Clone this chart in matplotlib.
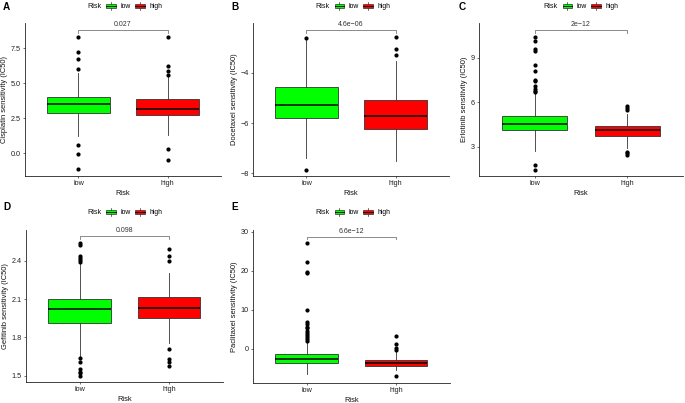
import matplotlib
matplotlib.use("Agg")
import matplotlib.pyplot as plt
from matplotlib.patches import Rectangle, Patch
from matplotlib.lines import Line2D
from matplotlib.legend_handler import HandlerBase

plt.rcParams['font.family'] = ['Liberation Sans', 'DejaVu Sans']
plt.rcParams['axes.unicode_minus'] = True

# ---------------- data ----------------
groups = ["low", "high"]
group_colors = ["#00FF00", "#FF0000"]

# box stats: [whisker_low, q1, median, q3, whisker_high]
cisplatin_low_box = [1.24, 2.90, 3.50, 4.04, 5.76]
cisplatin_low_out = [8.33, 7.26, 6.74, 6.02, 0.59, -0.05, -1.14]
cisplatin_high_box = [1.31, 2.71, 3.14, 3.86, 5.47]
cisplatin_high_out = [8.33, 6.26, 5.90, 5.62, 0.31, -0.45]
cisplatin_p = "0.027"
cisplatin_bracket = 8.81

docetaxel_low_box = [-7.40, -5.79, -5.27, -4.56, -2.70]
docetaxel_low_out = [-2.60, -7.87]
docetaxel_high_box = [-7.53, -6.22, -5.73, -5.06, -3.53]
docetaxel_high_out = [-2.56, -3.04, -3.30]
docetaxel_p = "4.6e\u221206"
docetaxel_bracket = -2.29

erlotinib_low_box = [2.73, 4.11, 4.52, 5.10, 6.60]
erlotinib_low_out = [10.40, 10.13, 9.55, 9.44, 8.54, 8.09, 7.53, 7.42, 7.08,
                     6.90, 6.76, 6.70, 1.81, 1.43]
erlotinib_high_box = [2.95, 3.71, 4.11, 4.40, 5.19]
erlotinib_high_out = [5.73, 5.64, 5.51, 2.65, 2.58, 2.49]
erlotinib_p = "2e\u221212"
erlotinib_bracket = 10.85

gefitinib_low_box = [1.65, 1.915, 2.02, 2.10, 2.38]
gefitinib_low_out = [2.54, 2.52, 2.44, 2.42, 2.405, 2.39, 1.64, 1.61, 1.55,
                     1.53, 1.52, 1.50]
gefitinib_high_box = [1.758, 1.95, 2.027, 2.113, 2.306]
gefitinib_high_out = [2.49, 2.44, 2.40, 1.706, 1.628, 1.604, 1.575]
gefitinib_p = "0.098"
gefitinib_bracket = 2.593

paclitaxel_low_box = [-6.5, -3.76, -2.73, -1.46, 1.9]
paclitaxel_low_out = [27.1, 22.3, 19.6, 19.4, 9.95, 6.94, 6.35, 5.66, 5.24,
                      4.55, 3.96, 3.52, 3.08, 2.41, 2.06]
paclitaxel_high_box = [-5.5, -4.45, -3.76, -2.9, -0.6]
paclitaxel_high_out = [3.27, 1.21, 0.1, -0.33, -6.94]
paclitaxel_p = "6.6e\u221212"
paclitaxel_bracket = 28.8

panel_letters = ["A", "B", "C", "D", "E"]
ylabels = ["Cisplatin sensitivity (IC50)", "Docetaxel sensitivity (IC50)",
           "Erlotinib sensitivity (IC50)", "Gefitinib sensitivity (IC50)",
           "Paclitaxel sensitivity (IC50)"]
yticks_list = [[0.0, 2.5, 5.0, 7.5], [-8, -6, -4], [3, 6, 9],
               [1.5, 1.8, 2.1, 2.4], [0, 10, 20, 30]]
yticklabels_list = [["0.0", "2.5", "5.0", "7.5"], ["\u22128", "\u22126", "\u22124"],
                    ["3", "6", "9"], ["1.5", "1.8", "2.1", "2.4"],
                    ["0", "10", "20", "30"]]
ylims = [(-1.62, 9.29), (-8.09, -2.02), (1.08, 11.31), (1.453, 2.64), (-8.74, 30.5)]

panels = [
    (cisplatin_low_box, cisplatin_low_out, cisplatin_high_box, cisplatin_high_out,
     cisplatin_p, cisplatin_bracket),
    (docetaxel_low_box, docetaxel_low_out, docetaxel_high_box, docetaxel_high_out,
     docetaxel_p, docetaxel_bracket),
    (erlotinib_low_box, erlotinib_low_out, erlotinib_high_box, erlotinib_high_out,
     erlotinib_p, erlotinib_bracket),
    (gefitinib_low_box, gefitinib_low_out, gefitinib_high_box, gefitinib_high_out,
     gefitinib_p, gefitinib_bracket),
    (paclitaxel_low_box, paclitaxel_low_out, paclitaxel_high_box, paclitaxel_high_out,
     paclitaxel_p, paclitaxel_bracket),
]

# ---------------- layout (pixels) ----------------
W, H = 685, 403
axes_px = [(25, 221, 23.3, 176), (253, 449, 23.3, 175.5), (479, 683, 23.3, 175.5),
           (26, 222.7, 230, 381.7), (253, 449.7, 230, 382.7)]
panel_origin = [(0, 0), (228, 0), (456, 0), (0, 200), (228, 200)]

fig = plt.figure(figsize=(W / 100, H / 100), dpi=100)

EDGE = "#333333"
TICKC = "#333333"
key_colors = dict(zip(groups, group_colors))


class BoxKeyHandler(HandlerBase):
    def create_artists(self, legend, orig_handle, xdescent, ydescent,
                       width, height, fontsize, trans):
        x0, y0 = -xdescent, -ydescent
        fc = key_colors[orig_handle.get_label()]
        cx = x0 + width / 2
        top = Line2D([cx, cx], [y0 + 0.85 * height, y0 + 1.15 * height],
                     color=EDGE, lw=0.5, transform=trans)
        bot = Line2D([cx, cx], [y0 - 0.15 * height, y0 + 0.15 * height],
                     color=EDGE, lw=0.5, transform=trans)
        rect = Rectangle((x0, y0 + 0.15 * height), width, 0.7 * height,
                         facecolor=fc, edgecolor=EDGE, lw=0.5, transform=trans)
        med = Line2D([x0, x0 + width], [y0 + height / 2, y0 + height / 2],
                     color="black", lw=0.6, transform=trans)
        return [rect, top, bot, med]


for i, (lowb, lowo, highb, higho, ptxt, brk) in enumerate(panels):
    l, r, t, b = axes_px[i]
    ax = fig.add_axes([l / W, 1 - b / H, (r - l) / W, (b - t) / H])
    stats = []
    for g, bx, out in zip(groups, [lowb, highb], [lowo, higho]):
        stats.append(dict(label=g, whislo=bx[0], q1=bx[1], med=bx[2], q3=bx[3],
                          whishi=bx[4], fliers=out))
    bp = ax.bxp(stats, positions=[1, 2], widths=0.7, patch_artist=True,
                showcaps=False,
                boxprops=dict(edgecolor=EDGE, linewidth=0.6),
                whiskerprops=dict(color=EDGE, linewidth=0.6),
                medianprops=dict(color="black", linewidth=1.1),
                flierprops=dict(marker="o", markerfacecolor="black",
                                markeredgecolor="black", markersize=2.0,
                                linestyle="none"))
    for patch, c in zip(bp["boxes"], group_colors):
        patch.set_facecolor(c)
    ax.set_xlim(0.4, 2.6)
    ax.set_ylim(*ylims[i])
    ax.set_yticks(yticks_list[i])
    ax.set_yticklabels(yticklabels_list[i])
    ax.set_xticks([1, 2])
    ax.set_xticklabels(groups)
    for s in ["top", "right"]:
        ax.spines[s].set_visible(False)
    for s in ["left", "bottom"]:
        ax.spines[s].set_linewidth(0.6)
        ax.spines[s].set_color("#222222")
    ax.tick_params(axis="both", length=1.6, width=0.5, color=TICKC,
                   labelsize=5.2, labelcolor="#222222", pad=1.5)
    ax.set_xlabel("Risk", fontsize=5.4, labelpad=2, color="#111111")
    ax.set_ylabel(ylabels[i], fontsize=5.4, labelpad=2, color="#111111")

    # bracket with p-value
    y0, y1 = ylims[i]
    drop = (y1 - y0) * 2.6 / (b - t)
    ax.plot([1, 1, 2, 2], [brk - drop, brk, brk, brk - drop], color="#777777", lw=0.6,
            clip_on=False)
    ax.annotate(ptxt, xy=(1.5, brk), xytext=(0, 1.2), textcoords="offset points",
                ha="center", va="bottom", fontsize=5.0, color="#333333")

    # panel letter
    ox, oy = panel_origin[i]
    fig.text((ox + 3) / W, 1 - (oy + 1.5) / H, panel_letters[i], fontsize=7.2,
             fontweight="bold", ha="left", va="top")

    # legend
    ly = oy + 6.3 if oy == 0 else oy + 12.7
    fig.text((ox + 87.7) / W, 1 - ly / H, "Risk", fontsize=5.2, ha="left",
             va="center", color="#111111")
    handles = [Patch(facecolor=c, label=g) for g, c in zip(groups, group_colors)]
    fig.legend(handles, groups, loc="center left",
               bbox_to_anchor=((ox + 106.5) / W, 1 - ly / H),
               ncol=2, frameon=False, fontsize=4.9, borderpad=0, borderaxespad=0,
               handlelength=1.45, handleheight=1.0, handletextpad=0.55,
               columnspacing=0.75,
               handler_map={Patch: BoxKeyHandler()})

fig.savefig("out.png", dpi=100)
